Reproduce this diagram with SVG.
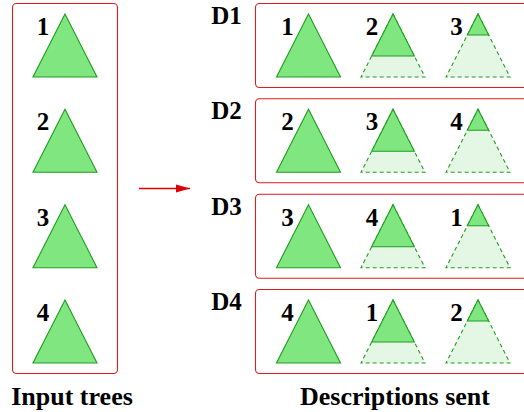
<svg xmlns="http://www.w3.org/2000/svg" xmlns:xlink="http://www.w3.org/1999/xlink" width="524" height="412" viewBox="0 0 524 412">
  <style>
    .box { fill: #ffffff; stroke: #dd1c1c; stroke-width: 1.1; }
    .lbl { font-family: "Liberation Serif", "Times New Roman", serif; font-weight: bold; font-size: 25px; fill: #000; text-anchor: middle; }
    .title { font-family: "Liberation Serif", "Times New Roman", serif; font-weight: bold; font-size: 26px; fill: #000; text-anchor: middle; }
    .solid { fill: #80e680; stroke: #1f9e1f; stroke-width: 1.1; stroke-linejoin: miter; }
    .ghost { fill: #e4f6e4; stroke: #1f9e1f; stroke-width: 1.1; stroke-dasharray: 4 3; }
    .conn { stroke: #dd0000; stroke-width: 1.5; fill: none; }
  </style>
  <defs>
    <!-- trees drawn with the apex at the origin -->
    <polygon id="full" class="solid" points="0,0 32,63 -32,63"/>
    <g id="twothirds">
      <polygon class="ghost" points="0,0 32,63 -32,63"/>
      <polygon class="solid" points="0,0 21.33,42 -21.33,42"/>
    </g>
    <g id="onethird">
      <polygon class="ghost" points="0,0 32,63 -32,63"/>
      <polygon class="solid" points="0,0 10.67,21 -10.67,21"/>
    </g>
    <marker id="arrow" markerWidth="14" markerHeight="10" refX="14" refY="5" orient="auto" markerUnits="userSpaceOnUse">
      <polygon points="0,1 14,5 0,9" fill="#dd0000"/>
    </marker>
  </defs>

  <!-- input trees -->
  <g id="inputs">
    <rect class="box" x="12.5" y="3.5" width="105" height="370" rx="4"/>
    <g id="tree1"><use xlink:href="#full" x="65" y="14"/><text class="lbl" x="43" y="35">1</text></g>
    <g id="tree2"><use xlink:href="#full" x="65" y="109.3"/><text class="lbl" x="43" y="130.3">2</text></g>
    <g id="tree3"><use xlink:href="#full" x="65" y="204.7"/><text class="lbl" x="43" y="225.7">3</text></g>
    <g id="tree4"><use xlink:href="#full" x="65" y="300"/><text class="lbl" x="43" y="321">4</text></g>
    <text class="title" x="72" y="405">Input trees</text>
  </g>

  <!-- connectors -->
  <g id="connectors">
    <line class="conn" x1="139" y1="188.5" x2="190" y2="188.5" marker-end="url(#arrow)"/>
  </g>

  <!-- descriptions -->
  <g id="d1">
    <text class="lbl" x="226.5" y="24">D1</text>
    <rect class="box" x="255.5" y="3.5" width="280" height="84" rx="4"/>
    <use xlink:href="#full" x="308.5" y="14"/><text class="lbl" x="287.5" y="35">1</text>
    <use xlink:href="#twothirds" x="393" y="14"/><text class="lbl" x="372" y="35">2</text>
    <use xlink:href="#onethird" x="478" y="14"/><text class="lbl" x="456.5" y="35">3</text>
  </g>
  <g id="d2">
    <text class="lbl" x="226.5" y="119.3">D2</text>
    <rect class="box" x="255.5" y="98.8" width="280" height="84" rx="4"/>
    <use xlink:href="#full" x="308.5" y="109.3"/><text class="lbl" x="287.5" y="130.3">2</text>
    <use xlink:href="#twothirds" x="393" y="109.3"/><text class="lbl" x="372" y="130.3">3</text>
    <use xlink:href="#onethird" x="478" y="109.3"/><text class="lbl" x="456.5" y="130.3">4</text>
  </g>
  <g id="d3">
    <text class="lbl" x="226.5" y="214.7">D3</text>
    <rect class="box" x="255.5" y="194.2" width="280" height="84" rx="4"/>
    <use xlink:href="#full" x="308.5" y="204.7"/><text class="lbl" x="287.5" y="225.7">3</text>
    <use xlink:href="#twothirds" x="393" y="204.7"/><text class="lbl" x="372" y="225.7">4</text>
    <use xlink:href="#onethird" x="478" y="204.7"/><text class="lbl" x="456.5" y="225.7">1</text>
  </g>
  <g id="d4">
    <text class="lbl" x="226.5" y="310">D4</text>
    <rect class="box" x="255.5" y="289.5" width="280" height="84" rx="4"/>
    <use xlink:href="#full" x="308.5" y="300"/><text class="lbl" x="287.5" y="321">4</text>
    <use xlink:href="#twothirds" x="393" y="300"/><text class="lbl" x="372" y="321">1</text>
    <use xlink:href="#onethird" x="478" y="300"/><text class="lbl" x="456.5" y="321">2</text>
  </g>
  <text class="title" x="395" y="405">Descriptions sent</text>
</svg>
